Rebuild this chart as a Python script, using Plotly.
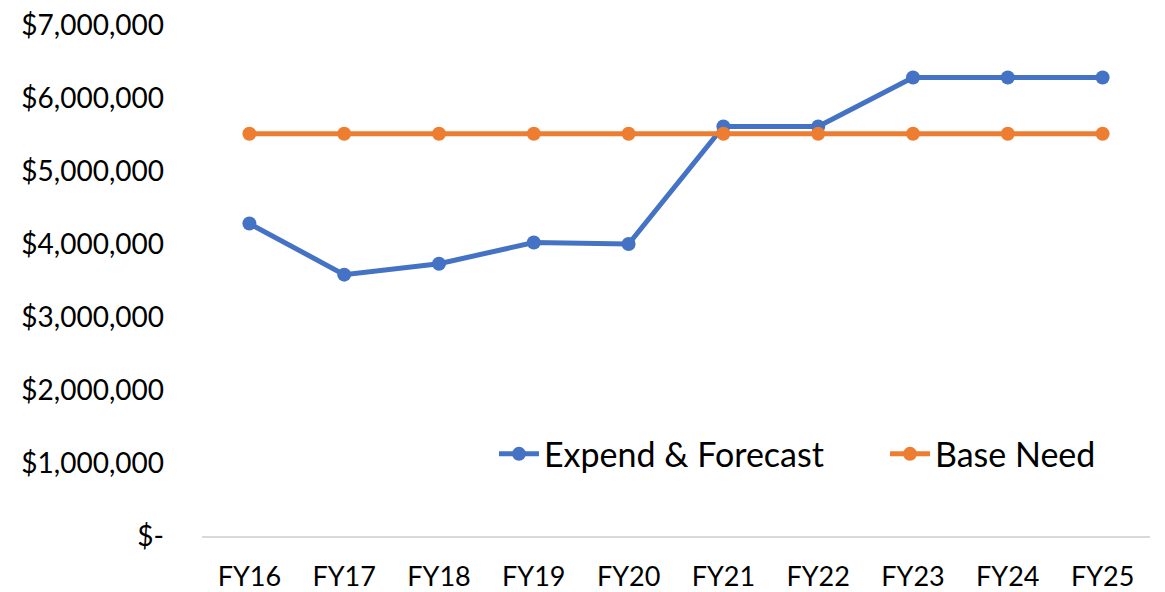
import plotly.graph_objects as go

categories = ["FY16", "FY17", "FY18", "FY19", "FY20", "FY21", "FY22", "FY23", "FY24", "FY25"]
expend_forecast = [4280000, 3580000, 3730000, 4020000, 4000000, 5610000, 5610000, 6280000, 6280000, 6280000]
base_need = [5510000] * 10
y_tick_vals = [0, 1000000, 2000000, 3000000, 4000000, 5000000, 6000000, 7000000]
y_tick_text = ["$-", "$1,000,000", "$2,000,000", "$3,000,000", "$4,000,000",
               "$5,000,000", "$6,000,000", "$7,000,000"]

FONT = "Lato, 'Noto Sans', sans-serif"

fig = go.Figure()
fig.add_trace(go.Scatter(
    x=categories, y=expend_forecast, name="Expend & Forecast", mode="lines+markers",
    line=dict(color="#4472C4", width=5), marker=dict(color="#4472C4", size=14)))
fig.add_trace(go.Scatter(
    x=categories, y=base_need, name="Base Need", mode="lines+markers",
    line=dict(color="#ED7D31", width=5), marker=dict(color="#ED7D31", size=14)))

fig.update_layout(
    width=1157, height=584,
    margin=dict(l=194, r=15, t=17, b=56, autoexpand=False),
    paper_bgcolor="white", plot_bgcolor="white",
    font=dict(family=FONT, size=26, color="#000000"),
    showlegend=True,
    legend=dict(orientation="h", x=0.308, y=0.16, xanchor="left", yanchor="middle",
                font=dict(family=FONT, size=34, color="#000000"),
                bgcolor="rgba(0,0,0,0)", itemwidth=40, entrywidth=336),
)
fig.update_xaxes(
    type="category", range=[-0.5, 9.5], showgrid=False, zeroline=False,
    showline=True, linecolor="#D9D9D9", linewidth=2, ticks="", automargin=False,
    ticklabeloverflow="allow",
    ticklabelstandoff=16, tickfont=dict(family=FONT, size=27, color="#000000"))
fig.update_yaxes(
    range=[0, 7000000], tickvals=y_tick_vals, ticktext=y_tick_text, automargin=False,
    showgrid=False, zeroline=False, showline=False, ticks="",
    ticklabeloverflow="allow",
    ticklabelstandoff=37, tickfont=dict(family=FONT, size=28, color="#000000"))

fig.write_html("out.html")
